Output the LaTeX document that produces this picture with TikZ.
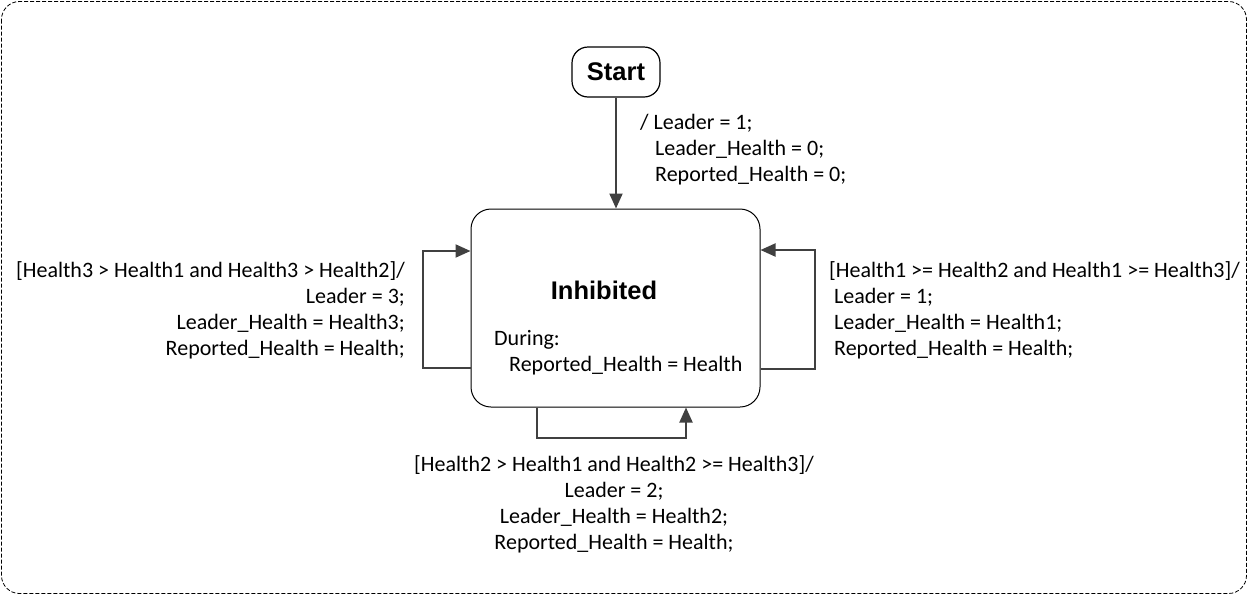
\documentclass[tikz,border=0pt]{standalone}
\usepackage{fontspec}
\usetikzlibrary{arrows.meta}
\newfontfamily\labfont{Carlito}
\newfontfamily\headfont{Liberation Sans}[BoldFont={Liberation Sans Bold}]
\definecolor{linegray}{HTML}{404040}
\tikzset{
  lab/.style={font=\labfont\fontsize{22}{26}\selectfont, inner sep=0pt, text=black},
  statebox/.style={draw=black, line width=1pt, rounded corners=20pt, fill=white},
  conn/.style={draw=linegray, line width=2pt, -{Triangle[length=15pt,width=13pt]}},
  head/.style={font=\headfont\bfseries\fontsize{25.5}{30}\selectfont, inner sep=0pt}
}
\begin{document}
\begin{tikzpicture}[x=1pt,y=-1pt]
\useasboundingbox (0,0) rectangle (1248,595);
\draw[black, line width=0.8pt, dash pattern=on 4pt off 2pt, rounded corners=18pt] (1.5,1.5) rectangle (1246.5,593.5);

\node[statebox, rounded corners=16pt, minimum width=88pt, minimum height=50pt, line width=1.2pt] (start) at (616,72) {};
\node[head] (starttext) at (616,72) {Start};

\node[statebox, minimum width=289pt, minimum height=198pt] (inh) at (615.5,308) {};
\node[head] (inhtext) at (604,290) {Inhibited};
\node[lab, anchor=north west, align=left] (during) at (494,330) {During:\\\hspace*{15pt}Reported\_Health = Health};

\draw[conn] (start.south) -- (start.south |- inh.north);
\node[lab, anchor=north west, align=left] (startlab) at (640,114) {/ Leader = 1;\\\hspace*{15pt}Leader\_Health = 0;\\\hspace*{15pt}Reported\_Health = 0;};

% left loop
\coordinate (l1) at (423,368);
\coordinate (l2) at (423,251);
\draw[conn] (inh.west |- l1) -- (l1) -- (l2) -- (inh.west |- l2);
\node[lab, anchor=north east, align=right] (leftlab) at (405,261) {[Health3 > Health1 and Health3 > Health2]/\\Leader = 3;\\Leader\_Health = Health3;\\Reported\_Health = Health;};

% right loop
\coordinate (r1) at (815,369);
\coordinate (r2) at (815,250);
\draw[conn] (inh.east |- r1) -- (r1) -- (r2) -- (inh.east |- r2);
\node[lab, anchor=north west, align=left] (rightlab) at (829,261) {[Health1 >= Health2 and Health1 >= Health3]/\\\hspace*{5pt}Leader = 1;\\\hspace*{5pt}Leader\_Health = Health1;\\\hspace*{5pt}Reported\_Health = Health;};

% bottom loop
\coordinate (b1) at (537,438);
\coordinate (b2) at (686,438);
\draw[conn] (inh.south -| b1) -- (b1) -- (b2) -- (inh.south -| b2);
\node[lab, anchor=north, align=center] (botlab) at (614,455) {[Health2 > Health1 and Health2 >= Health3]/\\Leader = 2;\\Leader\_Health = Health2;\\Reported\_Health = Health;};
\end{tikzpicture}
\end{document}
